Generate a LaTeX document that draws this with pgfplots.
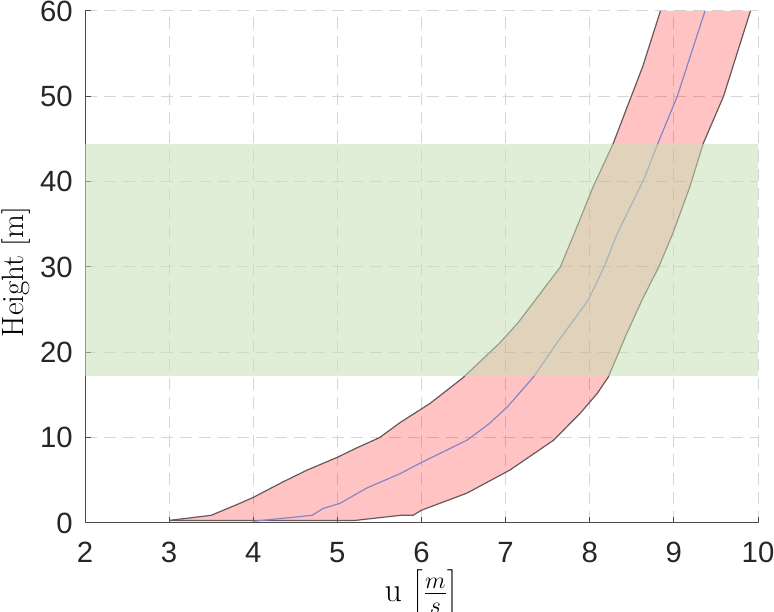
\documentclass[border=0pt]{standalone}
\usepackage{pgfplots}
\pgfplotsset{compat=1.18}
\usepackage{fontspec}
\setsansfont{Liberation Sans}
\definecolor{edgec}{rgb}{0.40,0.35,0.35}
\definecolor{midc}{rgb}{0.52,0.52,0.78}
\definecolor{bandg}{RGB}{197,223,181}
\definecolor{gridc}{rgb}{0.84,0.84,0.84}
\definecolor{axc}{rgb}{0.30,0.30,0.30}
\begin{document}
\begin{tikzpicture}
\begin{axis}[
  name=ax,
  scale only axis,
  width=336.5bp, height=256bp,
  xmin=2, xmax=10, ymin=0, ymax=60,
  xtick={2,3,...,10}, ytick={0,10,...,60},
  axis x line*=bottom, axis y line*=left,
  axis line style={draw=axc, line width=0.5bp, -},
  tick align=inside,
  major tick length=3bp,
  tick style={draw=axc, line width=0.5bp},
  grid=major,
  major grid style={draw=gridc, line width=0.5bp, dash pattern=on 6bp off 3.5bp},
  ticklabel style={font=\fontsize{14.7}{16}\sffamily, text=black!85, inner sep=1.5bp},
  /pgf/number format/assume math mode=true,
  xticklabel style={yshift=-8bp},
  yticklabel style={xshift=-4.5bp},
  xlabel={u $\left[\frac{m}{s}\right]$},
  ylabel={Height $[\mathrm{m}]$},
  xlabel style={font=\fontsize{17}{19}\selectfont, at={(axis description cs:0.5,0)}, anchor=base, yshift=-39.5bp, inner sep=0pt},
  ylabel style={font=\fontsize{15.5}{18}\selectfont, at={(axis description cs:0,0.5)}, anchor=base, rotate=0, yshift=31bp, xshift=-2.5bp, inner sep=0pt},
  clip=true,
]
% pink band (left curve then right curve reversed)
\addplot[draw=none, fill=red, fill opacity=0.235] coordinates {
(3.0,0.3) (3.5,0.9) (3.84,2.3) (4.0,3.0) (4.35,4.8) (4.64,6.2) (5.0,7.7) (5.23,8.8) (5.5,10.0) (5.75,11.8) (6.1,14.0) (6.49,17.0) (6.93,21.1) (7.15,23.5) (7.35,26.1) (7.65,30.0) (7.86,35.0) (8.04,39.4) (8.28,44.5) (8.40,47.6) (8.63,53.5) (8.84,60)
(9.91,60) (9.59,50) (9.35,44.5) (9.19,39.4) (8.99,34.0) (8.82,30.0) (8.62,26.1) (8.44,22.2) (8.22,17.1) (8.09,15.2) (7.89,12.9) (7.57,9.7) (7.05,6.2) (6.54,3.5) (6.0,1.5) (5.9,0.9) (5.75,0.9) (5.21,0.3) (3.0,0.3)
} -- cycle;
% left edge
\addplot[draw=edgec, line width=0.6bp] coordinates {
(3.0,0.3) (3.5,0.9) (3.84,2.3) (4.0,3.0) (4.35,4.8) (4.64,6.2) (5.0,7.7) (5.23,8.8) (5.5,10.0) (5.75,11.8) (6.1,14.0) (6.49,17.0) (6.93,21.1) (7.15,23.5) (7.35,26.1) (7.65,30.0) (7.86,35.0) (8.04,39.4) (8.28,44.5) (8.40,47.6) (8.63,53.5) (8.84,60)
};
% right edge
\addplot[draw=edgec, line width=0.6bp] coordinates {
(3.0,0.3) (5.21,0.3) (5.75,0.9) (5.9,0.9) (6.0,1.5) (6.54,3.5) (7.05,6.2) (7.57,9.7) (7.89,12.9) (8.09,15.2) (8.22,17.1) (8.44,22.2) (8.62,26.1) (8.82,30.0) (8.99,34.0) (9.19,39.4) (9.35,44.5) (9.59,50) (9.91,60)
};
% middle line
\addplot[draw=midc, line width=0.6bp] coordinates {
(4.0,0.2) (4.7,0.9) (4.83,1.7) (5.03,2.3) (5.35,4.1) (5.75,5.8) (5.98,7.0) (6.54,9.7) (6.8,11.6) (7.02,13.6) (7.33,17.1) (7.61,21.1) (7.98,26.1) (8.17,30.0) (8.33,34.0) (8.64,40.2) (8.81,44.5) (9.04,50) (9.37,60)
};
% green band
\addplot[draw=none, fill=bandg, fill opacity=0.53] coordinates {
(2,17.2) (10,17.2) (10,44.4) (2,44.4)
} -- cycle;
\end{axis}
\pgfresetboundingbox
\path[use as bounding box] ([shift={(-42.5bp,-44.5bp)}]ax.south west) rectangle ([shift={(8bp,5.5bp)}]ax.north east);
\end{tikzpicture}
\end{document}
